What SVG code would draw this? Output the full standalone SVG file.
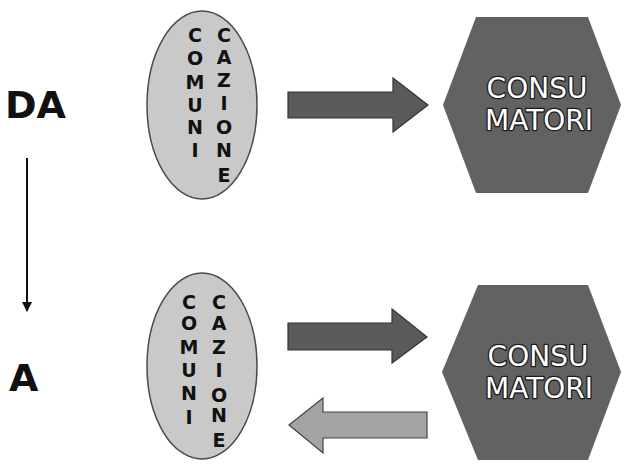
<svg xmlns="http://www.w3.org/2000/svg" width="624" height="466" viewBox="0 0 624 466">
<defs>
<style>
.ell{fill:#c9c9c9;stroke:#4a4a4a;stroke-width:1.5}
.hex{fill:#626262;stroke:none}
.col{font-family:"DejaVu Sans",sans-serif;font-weight:bold;font-size:19px;fill:#111;text-anchor:middle}
.ht{font-family:"DejaVu Sans",sans-serif;font-size:28px;fill:#fff;stroke:#1a1a1a;stroke-width:2.6;paint-order:stroke;stroke-linejoin:round;text-anchor:middle}
.big{font-family:"DejaVu Sans",sans-serif;font-weight:bold;font-size:38px;fill:#111}
.darr{fill:#5a5a5a;stroke:#333;stroke-width:1.2}
.larr{fill:#a3a3a3;stroke:#444;stroke-width:1.2}
</style>
<marker id="ah" viewBox="0 0 10 10" refX="9" refY="5" markerWidth="5" markerHeight="5" orient="auto"><path d="M0,0 L10,5 L0,10 z" fill="#111"/></marker>
</defs>
<rect width="624" height="466" fill="#fff"/>
<g id="label-da"><text class="big" x="5" y="118">DA</text></g>
<g id="label-a"><text class="big" x="9" y="391">A</text></g>
<g id="ell1">
<ellipse class="ell" cx="202" cy="105" rx="55" ry="94"/>
<text class="col" x="195" y="42">C</text><text class="col" x="195" y="65">O</text><text class="col" x="195" y="89">M</text><text class="col" x="195" y="112">U</text><text class="col" x="195" y="134">N</text><text class="col" x="195" y="157">I</text>
<text class="col" x="224" y="42">C</text><text class="col" x="224" y="64">A</text><text class="col" x="224" y="87">Z</text><text class="col" x="224" y="110">I</text><text class="col" x="224" y="134">O</text><text class="col" x="224" y="157">N</text><text class="col" x="224" y="182">E</text>
</g>
<g id="ell2">
<ellipse class="ell" cx="202" cy="366" rx="55" ry="93"/>
<text class="col" x="189" y="309">C</text><text class="col" x="189" y="330">O</text><text class="col" x="189" y="354">M</text><text class="col" x="189" y="377">U</text><text class="col" x="189" y="400">N</text><text class="col" x="189" y="424">I</text>
<text class="col" x="219" y="309">C</text><text class="col" x="219" y="330">A</text><text class="col" x="219" y="354">Z</text><text class="col" x="219" y="377">I</text><text class="col" x="219" y="402">O</text><text class="col" x="219" y="422">N</text><text class="col" x="219" y="447">E</text>
</g>
<g id="hex1">
<polygon class="hex" points="443,105 476,17 588,17 621,105 588,193 476,193"/>
<text class="ht" x="537" y="98">CONSU</text>
<text class="ht" x="539" y="130">MATORI</text>
</g>
<g id="hex2">
<polygon class="hex" points="442,372 478,285 588,285 621,372 588,460 478,460"/>
<text class="ht" x="538" y="366">CONSU</text>
<text class="ht" x="539" y="398">MATORI</text>
</g>
<g id="connectors">
<line x1="27" y1="158" x2="27" y2="311" stroke="#111" stroke-width="2" marker-end="url(#ah)"/>
<polygon class="darr" points="288,92 393,92 393,78 428,105 393,132 393,118 288,118"/>
<polygon class="darr" points="288,323 392,323 392,309 427,337 392,363 392,350 288,350"/>
<polygon class="larr" points="427,412 323,412 323,398 289,425 323,453 323,438 427,438"/>
</g>
</svg>
